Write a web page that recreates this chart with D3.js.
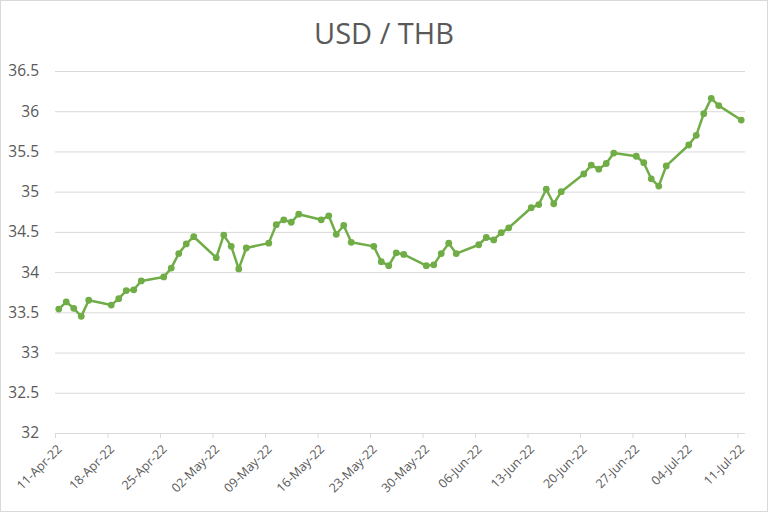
<!DOCTYPE html>
<html><head><meta charset="utf-8">
<script src="https://cdn.jsdelivr.net/npm/d3@7"></script>
<style>body{margin:0;background:#fff;} svg{display:block;}</style>
</head><body>
<svg id="c" width="768" height="512"></svg>
<script>
const title = "USD / THB";
const dates = ["2022-04-11","2022-04-12","2022-04-13","2022-04-14","2022-04-15",
"2022-04-18","2022-04-19","2022-04-20","2022-04-21","2022-04-22",
"2022-04-25","2022-04-26","2022-04-27","2022-04-28","2022-04-29",
"2022-05-02","2022-05-03","2022-05-04","2022-05-05","2022-05-06",
"2022-05-09","2022-05-10","2022-05-11","2022-05-12","2022-05-13",
"2022-05-16","2022-05-17","2022-05-18","2022-05-19","2022-05-20",
"2022-05-23","2022-05-24","2022-05-25","2022-05-26","2022-05-27",
"2022-05-30","2022-05-31","2022-06-01","2022-06-02","2022-06-03",
"2022-06-06","2022-06-07","2022-06-08","2022-06-09","2022-06-10",
"2022-06-13","2022-06-14","2022-06-15","2022-06-16","2022-06-17",
"2022-06-20","2022-06-21","2022-06-22","2022-06-23","2022-06-24",
"2022-06-27","2022-06-28","2022-06-29","2022-06-30","2022-07-01",
"2022-07-04","2022-07-05","2022-07-06","2022-07-07","2022-07-08",
"2022-07-11"];
const rates = [33.54,33.63,33.55,33.45,33.65,
33.59,33.67,33.77,33.78,33.89,
33.94,34.05,34.23,34.35,34.44,
34.18,34.46,34.32,34.04,34.30,
34.36,34.59,34.65,34.62,34.72,
34.65,34.70,34.47,34.58,34.37,
34.32,34.13,34.08,34.24,34.22,
34.08,34.09,34.23,34.36,34.23,
34.34,34.43,34.40,34.49,34.55,
34.80,34.84,35.03,34.85,35.00,
35.22,35.33,35.28,35.35,35.48,
35.44,35.36,35.16,35.07,35.32,
35.58,35.70,35.97,36.16,36.07,
35.89];
const yTicks = [32,32.5,33,33.5,34,34.5,35,35.5,36,36.5];
const xTickDates = ["2022-04-11","2022-04-18","2022-04-25","2022-05-02","2022-05-09","2022-05-16","2022-05-23","2022-05-30","2022-06-06","2022-06-13","2022-06-20","2022-06-27","2022-07-04","2022-07-11"];

const parse = d3.utcParse("%Y-%m-%d");
const fmt = d3.utcFormat("%d-%b-%y");
const data = dates.map((d,i)=>({date:parse(d), v:rates[i]}));

const svg = d3.select("#c");
svg.append("rect").attr("x",0.5).attr("y",0.5).attr("width",767).attr("height",511)
  .attr("fill","#fff").attr("stroke","#d9d9d9");

const pL=55, pR=745, pT=71, pB=433;
const x = d3.scaleUtc().domain([parse("2022-04-11"), parse("2022-07-12")]).range([pL,pR]);
const y = d3.scaleLinear().domain([32,36.5]).range([pB,pT]);
const half = d=>x(d3.utcHour.offset(d,12));

svg.append("text").attr("x",384).attr("y",44).attr("text-anchor","middle")
  .attr("font-family","'Open Sans', sans-serif").attr("font-size",29).attr("fill","#595959").text(title);

// gridlines + y labels
const ya = svg.append("g").attr("transform",`translate(${pL},0)`)
  .call(d3.axisLeft(y).tickValues(yTicks).tickSize(-(pR-pL)).tickFormat(d=>String(d)).tickPadding(16));
ya.select(".domain").remove();
ya.selectAll("line").attr("stroke","#d9d9d9");
ya.selectAll("text").attr("font-family","'Open Sans', sans-serif").attr("font-size",15.5).attr("fill","#595959");

// x axis
const xa = svg.append("g").attr("transform",`translate(0,${pB})`)
  .call(d3.axisBottom(x).tickValues(xTickDates.map(parse)).tickSize(5).tickFormat(fmt));
xa.select(".domain").attr("stroke","#d9d9d9").attr("d",`M${pL},0.5H${pR}`);
xa.selectAll("line").attr("stroke","#d9d9d9");
xa.selectAll("text").attr("font-family","'Open Sans', sans-serif").attr("font-size",12.5).attr("fill","#595959")
  .attr("text-anchor","end").attr("dy",null).attr("dx",null)
  .attr("transform","translate(7,17) rotate(-45)").attr("y",0).attr("x",0);

const line = d3.line().x(d=>half(d.date)).y(d=>y(d.v));
svg.append("path").datum(data).attr("d",line).attr("fill","none").attr("stroke","#70ad47")
  .attr("stroke-width",2.5).attr("stroke-linejoin","round");
svg.append("g").selectAll("circle").data(data).join("circle")
  .attr("cx",d=>half(d.date)).attr("cy",d=>y(d.v)).attr("r",3.4).attr("fill","#70ad47");
</script>
</body></html>
